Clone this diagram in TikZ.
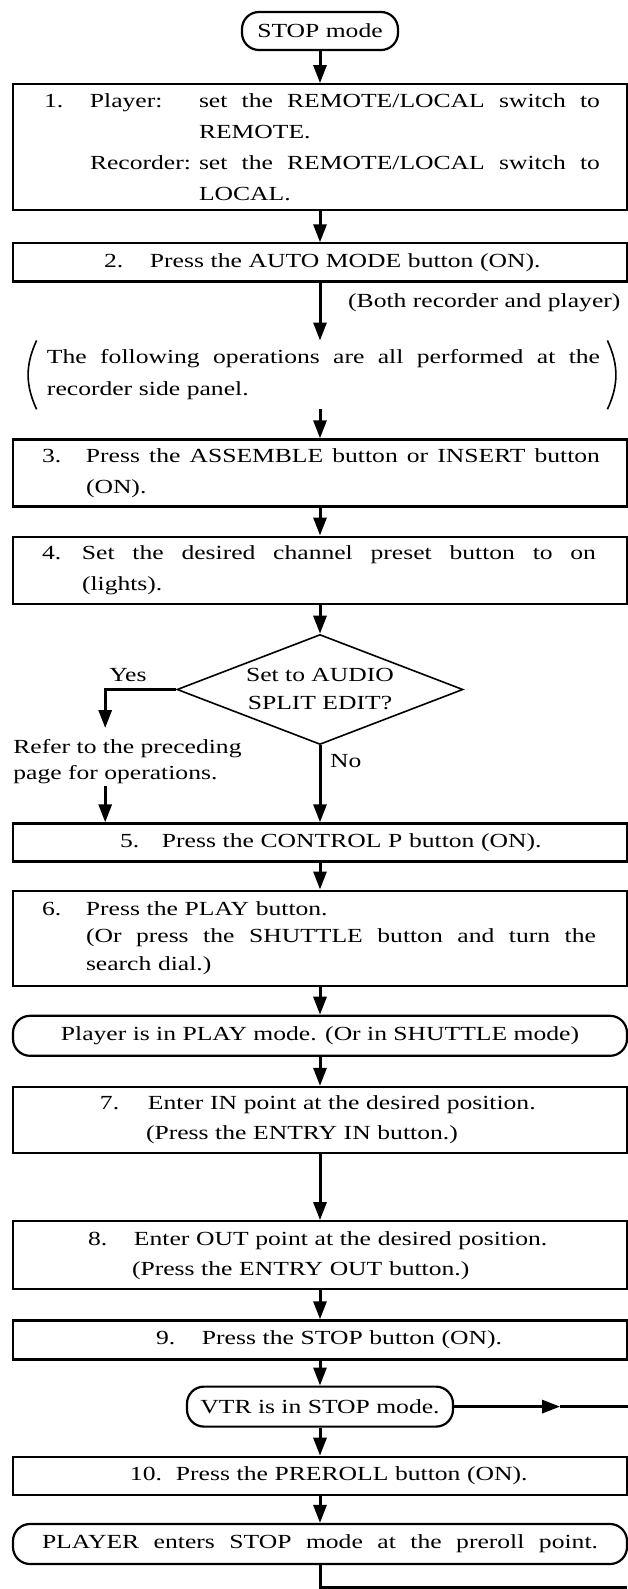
\documentclass[tikz,border=0pt]{standalone}
\usepackage{fontspec}
\setmainfont{Liberation Serif}[FakeStretch=1.28]
\usetikzlibrary{positioning, arrows.meta, shapes.geometric}

% a line spread out to a given width
\newcommand{\spreadLine}[2]{\makebox[#1][s]{\spaceskip=0pt\relax #2}}

\tikzset{
  stepBox/.style={draw, line width=1.1pt, text width=307pt, minimum width=307pt,
                  inner xsep=0pt, inner ysep=0pt, align=left,
                  font=\fontsize{10}{15.5}\selectfont},
  modeBox/.style={draw, line width=1.1pt, rounded corners=8.5pt, inner sep=0pt, align=center},
  askBox/.style={draw, diamond, aspect=2.6, line width=0.8pt, inner sep=0pt, align=center,
                 minimum width=143pt, minimum height=55pt, font=\fontsize{10}{14}\selectfont},
  flowArrow/.style={line width=1.5pt, -{Triangle[length=9pt, width=6.5pt]}},
  flowLine/.style={line width=1.5pt},
  parenLine/.style={line width=0.8pt}
}

\begin{document}
\begin{tikzpicture}[x=0.5pt, y=-0.5pt]
  \useasboundingbox (0,0) rectangle (627,1589);

  \node[modeBox, minimum width=78pt, minimum height=19pt] (n0) at (320,31) {STOP mode};
  \node[stepBox, minimum height=63pt, below=16pt of n0] (n1)
    {\hspace*{15.5pt}\makebox[23pt][l]{1.}\makebox[54.5pt][l]{Player:}\spreadLine{200.5pt}{set the REMOTE/LOCAL switch to}\\
     \hspace*{93pt}REMOTE.\\
     \hspace*{38.5pt}\makebox[54.5pt][l]{Recorder:}\spreadLine{200.5pt}{set the REMOTE/LOCAL switch to}\\
     \hspace*{93pt}LOCAL.};
  \node[stepBox, minimum height=19pt, below=15.5pt of n1] (n2)
    {\hspace*{45.5pt}\makebox[23pt][l]{2.}Press the AUTO MODE button (ON).};
  \node[text width=307pt, minimum width=307pt, minimum height=34pt, inner sep=0pt, align=left,
        font=\fontsize{10}{16}\selectfont, below=29pt of n2] (note)
    {\hspace*{17pt}\spreadLine{276.5pt}{The following operations are all performed at the}\\
     \hspace*{17pt}recorder side panel.};
  \node[stepBox, minimum height=33.5pt, below=14.5pt of note] (n3)
    {\hspace*{14.5pt}\makebox[22pt][l]{3.}\spreadLine{257pt}{Press the ASSEMBLE button or INSERT button}\\
     \hspace*{36.5pt}(ON).};
  \node[stepBox, minimum height=33.5pt, below=14pt of n3] (n4)
    {\hspace*{14.5pt}\makebox[20pt][l]{4.}\spreadLine{257pt}{Set the desired channel preset button to on}\\
     \hspace*{34.5pt}(lights).};
  \node[askBox, below=14.5pt of n4] (dia) {Set to AUDIO\\SPLIT EDIT?};
  \node[stepBox, minimum height=19pt, below=38.5pt of dia] (n5)
    {\hspace*{53.5pt}\makebox[21pt][l]{5.}Press the CONTROL P button (ON).};
  \node[stepBox, minimum height=47.5pt, font=\fontsize{10}{13.75}\selectfont, below=13.5pt of n5] (n6)
    {\hspace*{14.5pt}\makebox[22pt][l]{6.}Press the PLAY button.\\
     \hspace*{36.5pt}\spreadLine{255pt}{(Or press the SHUTTLE button and turn the}\\
     \hspace*{36.5pt}search dial.)};
  \node[modeBox, minimum width=307pt, minimum height=20pt, below=14pt of n6] (play)
    {Player is in PLAY mode. (Or in SHUTTLE mode)};
  \node[stepBox, minimum height=33pt, font=\fontsize{10}{15}\selectfont, below=14.5pt of play] (n7)
    {\hspace*{43.5pt}\makebox[24pt][l]{7.}Enter IN point at the desired position.\\
     \hspace*{66.5pt}(Press the ENTRY IN button.)};
  \node[stepBox, minimum height=34pt, font=\fontsize{10}{15}\selectfont, below=33pt of n7] (n8)
    {\hspace*{37.5pt}\makebox[23pt][l]{8.}Enter OUT point at the desired position.\\
     \hspace*{59.5pt}(Press the ENTRY OUT button.)};
  \node[stepBox, minimum height=19.5pt, below=14.5pt of n8] (n9)
    {\hspace*{71.5pt}\makebox[23pt][l]{9.}Press the STOP button (ON).};
  \node[modeBox, minimum width=133pt, minimum height=20pt, below=12.5pt of n9] (vtr)
    {VTR is in STOP mode.};
  \node[stepBox, minimum height=19pt, below=14pt of vtr] (n10)
    {\hspace*{58.5pt}\makebox[23pt][l]{10.}Press the PREROLL button (ON).};
  \node[modeBox, minimum width=307pt, minimum height=20pt, below=13.5pt of n10] (player)
    {\spreadLine{278pt}{PLAYER enters STOP mode at the preroll point.}};

  % the yes branch
  \coordinate (yesTurn) at ([xshift=-35.5pt]dia.west);
  \node[anchor=north west, align=left, inner sep=1pt, font=\fontsize{10}{13}\selectfont] (refer)
    at (11,737) {Refer to the preceding\\page for operations.};

  % brackets round the note
  \draw[parenLine] ([xshift=12pt]note.north west) to[bend right=25] ([xshift=12pt]note.south west);
  \draw[parenLine] ([xshift=-10pt]note.north east) to[bend left=25] ([xshift=-10pt]note.south east);

  \foreach \a/\b in {n0/n1, n1/n2, note/n3, n3/n4, n4/dia, n5/n6, n6/play, play/n7,
                     n7/n8, n8/n9, n9/vtr, vtr/n10, n10/player}
    \draw[flowArrow] (\a) -- (\b);
  \draw[flowArrow] (n2) -- node[pos=0.34, right=10pt] {(Both recorder and player)} (note);
  \draw[flowArrow] (dia) -- node[pos=0.2, right=1pt] {No} (n5);
  \draw[flowArrow, shorten >=4.5pt] (dia.west) -- node[above, pos=0.68] {Yes} (yesTurn)
    -- (yesTurn |- refer.north);
  \draw[flowArrow] (yesTurn |- refer.south) -- (yesTurn |- n5.north);

  % out to the right
  \coordinate (vtrTip) at ([xshift=53pt]vtr.east);
  \coordinate (vtrEnd) at ([xshift=87pt]vtr.east);
  \draw[flowArrow] (vtr) -- (vtrTip);
  \draw[flowLine] (vtrTip) -- (vtrEnd);
  \coordinate (endCorner) at (627,1587);
  \draw[flowLine] (player) |- (endCorner);
\end{tikzpicture}
\end{document}
